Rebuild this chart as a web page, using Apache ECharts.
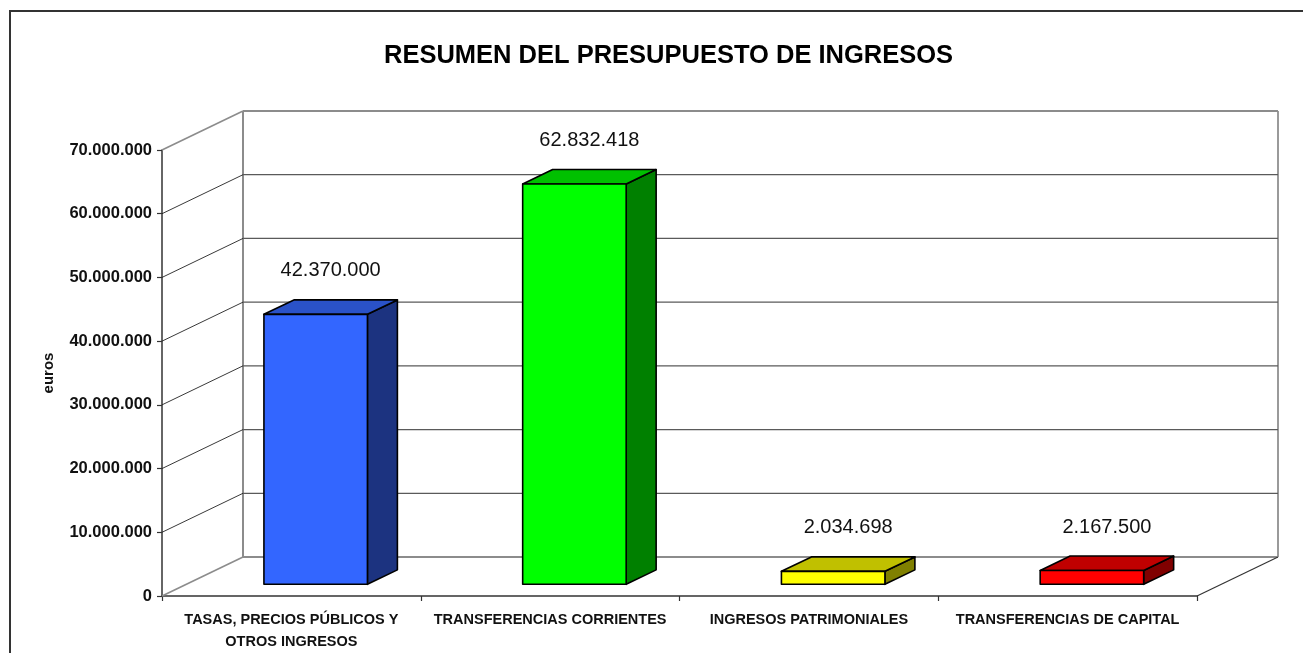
<!DOCTYPE html>
<html>
<head>
<meta charset="utf-8">
<script src="https://cdn.jsdelivr.net/npm/echarts@6.0.0/dist/echarts.min.js"></script>
<style>
  html, body { margin: 0; padding: 0; background: #fff; }
  #chart { width: 1303px; height: 653px; }
</style>
</head>
<body>
<div id="chart"></div>
<script>
// data
const categories = [
  'TASAS, PRECIOS PÚBLICOS Y\nOTROS INGRESOS',
  'TRANSFERENCIAS CORRIENTES',
  'INGRESOS PATRIMONIALES',
  'TRANSFERENCIAS DE CAPITAL'
]
const amounts = [42370000, 62832418, 2034698, 2167500]
const yTicks = [0, 10000000, 20000000, 30000000, 40000000, 50000000, 60000000, 70000000]

const frontColors = ['#3366FF', '#00FF00', '#FFFF00', '#FF0000']
const topColors = ['#2A52C8', '#00C000', '#C0C000', '#C00000']
const sideColors = ['#1C3380', '#008000', '#808000', '#800000']

// perspective offset of the back wall (pixels)
const DX = 81
const DY = -39
// bar depth position (fraction of the floor depth)
const F1 = 0.3
const F2 = 0.67

const SANS = "'Liberation Sans', Arial, sans-serif"

function fmt(v) {
  return String(v).replace(/\B(?=(\d{3})+(?!\d))/g, '.')
}

function renderWall(params, api) {
  const cs = params.coordSys
  const x0 = cs.x
  const x1 = cs.x + cs.width
  const v = api.value(1)
  const y = api.coord([0, v])[1]
  const edge = v === yTicks[0] || v === yTicks[yTicks.length - 1]
  const children = [
    {
      type: 'line',
      shape: { x1: x0 + DX, y1: y + DY, x2: x1 + DX, y2: y + DY },
      style: { stroke: edge ? '#8c8c8c' : '#5a5a5a', lineWidth: edge ? 2 : 1.3 }
    },
    {
      type: 'line',
      shape: { x1: x0, y1: y, x2: x0 + DX, y2: y + DY },
      style: { stroke: edge ? '#8c8c8c' : '#222', lineWidth: edge ? 1.6 : 0.9 }
    }
  ]
  if (v === yTicks[0]) {
    const top = api.coord([0, yTicks[yTicks.length - 1]])[1]
    children.push(
      {
        type: 'line',
        shape: { x1: x0 + DX, y1: y + DY, x2: x0 + DX, y2: top + DY },
        style: { stroke: '#8c8c8c', lineWidth: 2 }
      },
      {
        type: 'line',
        shape: { x1: x1 + DX, y1: y + DY, x2: x1 + DX, y2: top + DY },
        style: { stroke: '#9a9a9a', lineWidth: 2 }
      },
      {
        type: 'line',
        shape: { x1: x1, y1: y, x2: x1 + DX, y2: y + DY },
        style: { stroke: '#333', lineWidth: 1.2 }
      }
    )
  }
  return { type: 'group', children: children }
}

function renderBar(params, api) {
  const i = params.dataIndex
  const v = api.value(1)
  const top = api.coord([i, v])
  const base = api.coord([i, 0])
  const bw = api.size([1, 0])[0] * 0.4
  const L = top[0] - bw / 2 + DX * F1
  const R = L + bw
  const T = top[1] + DY * F1
  const B = base[1] + DY * F1
  const ddx = DX * (F2 - F1)
  const ddy = DY * (F2 - F1)
  const line = { stroke: '#000', lineWidth: 1.6, lineJoin: 'round' }
  return {
    type: 'group',
    children: [
      {
        type: 'polygon',
        shape: { points: [[R, T], [R + ddx, T + ddy], [R + ddx, B + ddy], [R, B]] },
        style: Object.assign({ fill: sideColors[i] }, line)
      },
      {
        type: 'polygon',
        shape: { points: [[L, T], [R, T], [R + ddx, T + ddy], [L + ddx, T + ddy]] },
        style: Object.assign({ fill: topColors[i] }, line)
      },
      {
        type: 'rect',
        shape: { x: L, y: T, width: bw, height: B - T },
        style: Object.assign({ fill: frontColors[i] }, line)
      },
      {
        type: 'text',
        x: (L + R) / 2 + ddx / 2,
        y: T + ddy - 29,
        style: {
          text: fmt(v),
          fontFamily: SANS,
          fontSize: 20,
          fill: '#111',
          align: 'center',
          verticalAlign: 'middle'
        }
      }
    ]
  }
}

const chart = echarts.init(document.getElementById('chart'), null, { renderer: 'canvas' })

chart.setOption({
  animation: false,
  backgroundColor: '#fff',
  title: {
    text: 'RESUMEN DEL PRESUPUESTO DE INGRESOS',
    left: 379,
    top: 38,
    textStyle: { fontFamily: SANS, fontSize: 25.5, fontWeight: 'bold', color: '#000' }
  },
  graphic: [
    {
      type: 'rect',
      shape: { x: 10, y: 11, width: 1300, height: 700 },
      style: { fill: 'none', stroke: '#333', lineWidth: 2 },
      silent: true
    }
  ],
  grid: { left: 162, right: 106, top: 150, bottom: 55 },
  xAxis: {
    type: 'category',
    data: categories,
    axisLine: { lineStyle: { color: '#333', width: 1.5 } },
    axisTick: { show: true, length: 5, lineStyle: { color: '#333', width: 1.2 } },
    splitLine: { show: false },
    axisLabel: {
      interval: 0,
      margin: 13,
      fontFamily: SANS,
      fontSize: 14.5,
      fontWeight: 'bold',
      lineHeight: 22,
      color: '#111'
    }
  },
  yAxis: {
    type: 'value',
    min: 0,
    max: 70000000,
    interval: 10000000,
    name: 'euros',
    nameLocation: 'middle',
    nameRotate: 90,
    nameGap: 106,
    nameTextStyle: { fontFamily: SANS, fontSize: 15, fontWeight: 'bold', color: '#111' },
    axisLine: { show: true, lineStyle: { color: '#333', width: 1.5 } },
    axisTick: { show: true, length: 5, lineStyle: { color: '#333', width: 1.2 } },
    splitLine: { show: false },
    axisLabel: {
      margin: 10,
      fontFamily: SANS,
      fontSize: 16.5,
      fontWeight: 'bold',
      color: '#111',
      formatter: fmt
    }
  },
  series: [
    {
      type: 'custom',
      name: 'walls',
      silent: true,
      z: 1,
      renderItem: renderWall,
      encode: { x: 0, y: 1 },
      data: yTicks.map(v => [0, v])
    },
    {
      type: 'custom',
      name: 'ingresos',
      silent: true,
      z: 3,
      renderItem: renderBar,
      encode: { x: 0, y: 1 },
      data: amounts.map((v, i) => [i, v])
    }
  ]
})
</script>
</body>
</html>
